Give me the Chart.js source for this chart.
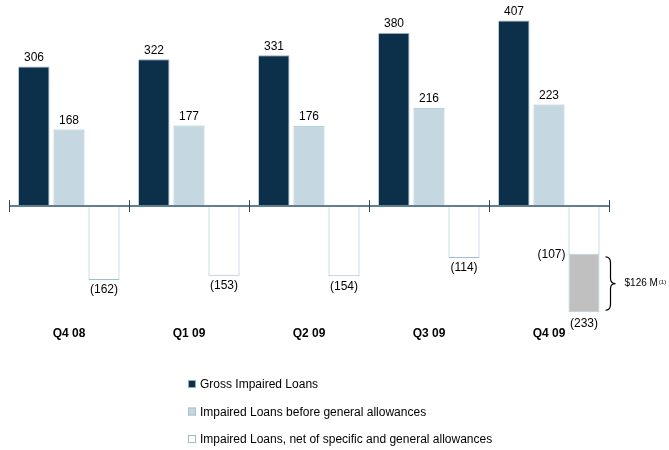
<!DOCTYPE html>
<html>
<head>
<meta charset="utf-8">
<script src="https://cdn.jsdelivr.net/npm/chart.js@4.4.0/dist/chart.umd.min.js"></script>
<style>
  html, body { margin: 0; padding: 0; background: #fff; }
  #wrap { width: 669px; height: 450px; position: relative; }
</style>
</head>
<body>
<div id="wrap"><canvas id="loansChart"></canvas></div>
<script>
// Datos del gráfico (millones $)
const quarters = ['Q4 08', 'Q1 09', 'Q2 09', 'Q3 09', 'Q4 09'];
const grossImpaired = [306, 322, 331, 380, 407];
const beforeGeneral = [168, 177, 176, 216, 223];
const netAllowances = [-162, -153, -154, -114, -107];
const netExtra = [null, null, null, null, -126]; // tramo gris de Q4 09 (hasta -233)
const legendLabels = [
    'Gross Impaired Loans',
    'Impaired Loans before general allowances',
    'Impaired Loans, net of specific and general allowances'
];
const braceNote = '$126 M';
const braceSup = '(1)';

const FONT = '"Liberation Sans", Arial, sans-serif';
const fmtNeg = v => '(' + Math.abs(v) + ')';

// Plugin: eje en cero, etiquetas de valores, categorías, llave y leyenda
const decorPlugin = {
    id: 'decor',
    afterDatasetsDraw(chart) {
        const ctx = chart.ctx;
        const y = chart.scales.y;
        const zero = y.getPixelForValue(0);
        const left = chart.chartArea.left;
        const step = (chart.chartArea.right - left) / quarters.length;

        ctx.save();
        // línea del eje
        ctx.strokeStyle = '#5f7f92';
        ctx.lineWidth = 2;
        ctx.beginPath();
        ctx.moveTo(left, zero);
        ctx.lineTo(chart.chartArea.right, zero);
        ctx.stroke();
        ctx.strokeStyle = '#2b4a5e';
        ctx.lineWidth = 1;
        for (let i = 0; i <= quarters.length; i++) {
            const px = Math.round(left + i * step) + 0.5;
            ctx.beginPath();
            ctx.moveTo(px, zero - 6);
            ctx.lineTo(px, zero + 6);
            ctx.stroke();
        }

        // etiquetas de valores
        ctx.fillStyle = '#000';
        ctx.font = '12px ' + FONT;
        ctx.textAlign = 'center';
        [0, 1].forEach(di => {
            const meta = chart.getDatasetMeta(di);
            meta.data.forEach((bar, i) => {
                ctx.textBaseline = 'bottom';
                ctx.fillText(String(chart.data.datasets[di].data[i]), bar.x, bar.y - 3);
            });
        });
        const netMeta = chart.getDatasetMeta(2);
        const extraMeta = chart.getDatasetMeta(3);
        netMeta.data.forEach((bar, i) => {
            if (netExtra[i] != null) {
                const low = extraMeta.data[i];
                ctx.textAlign = 'right';
                ctx.textBaseline = 'middle';
                ctx.fillText(fmtNeg(netAllowances[i]), bar.x - bar.width / 2 - 3, bar.y);
                ctx.textAlign = 'center';
                ctx.textBaseline = 'top';
                ctx.fillText(fmtNeg(netAllowances[i] + netExtra[i]), low.x, low.y + 5);

                // llave
                const bx = low.x + low.width / 2 + 6;
                const y0 = bar.y + 2, y1 = low.y - 2, ym = (y0 + y1) / 2;
                ctx.strokeStyle = '#000';
                ctx.lineWidth = 1.2;
                ctx.beginPath();
                ctx.moveTo(bx, y0);
                ctx.quadraticCurveTo(bx + 5, y0, bx + 5, y0 + 6);
                ctx.lineTo(bx + 5, ym - 5);
                ctx.quadraticCurveTo(bx + 5, ym, bx + 10, ym);
                ctx.quadraticCurveTo(bx + 5, ym, bx + 5, ym + 5);
                ctx.lineTo(bx + 5, y1 - 6);
                ctx.quadraticCurveTo(bx + 5, y1, bx, y1);
                ctx.stroke();

                ctx.textAlign = 'left';
                ctx.textBaseline = 'middle';
                ctx.font = '10px ' + FONT;
                ctx.fillText(braceNote, bx + 19, ym);
                const w = ctx.measureText(braceNote).width;
                ctx.font = '6px ' + FONT;
                ctx.fillText(braceSup, bx + 19 + w + 1, ym - 1);
                ctx.font = '12px ' + FONT;
            } else {
                ctx.textAlign = 'center';
                ctx.textBaseline = 'top';
                ctx.fillText(fmtNeg(netAllowances[i]), bar.x, bar.y + 4);
            }
        });

        // categorías
        ctx.font = 'bold 12px ' + FONT;
        ctx.textAlign = 'center';
        ctx.textBaseline = 'middle';
        quarters.forEach((q, i) => {
            ctx.fillText(q, left + (i + 0.5) * step, 334);
        });

        // leyenda
        ctx.font = '12px ' + FONT;
        ctx.textAlign = 'left';
        legendLabels.forEach((lbl, i) => {
            const ds = chart.data.datasets[i];
            const ly = 384 + i * 27.5;
            ctx.fillStyle = ds.backgroundColor;
            ctx.fillRect(188, ly - 4, 8, 8);
            ctx.strokeStyle = ds.borderColor;
            ctx.lineWidth = 1;
            ctx.strokeRect(188.5, ly - 3.5, 7, 7);
            ctx.fillStyle = '#000';
            ctx.fillText(lbl, 200, ly + 1);
        });
        ctx.restore();
    }
};

document.addEventListener('DOMContentLoaded', function () {
    const ctx = document.getElementById('loansChart').getContext('2d');
    new Chart(ctx, {
        type: 'bar',
        data: {
            labels: quarters,
            datasets: [{
                label: legendLabels[0],
                data: grossImpaired,
                backgroundColor: '#0c3049',
                borderColor: '#8fb0c2',
                borderWidth: { right: 1, top: 1 },
                stack: 'a'
            }, {
                label: legendLabels[1],
                data: beforeGeneral,
                backgroundColor: '#c5d8e2',
                borderColor: '#a3c1d1',
                borderWidth: 1,
                stack: 'b'
            }, {
                label: legendLabels[2],
                data: netAllowances,
                backgroundColor: '#ffffff',
                borderColor: '#9dbdd0',
                borderWidth: 1,
                stack: 'c'
            }, {
                label: 'extra',
                data: netExtra,
                backgroundColor: '#c0c0c0',
                borderColor: '#b5cfdc',
                borderWidth: 1,
                stack: 'c'
            }]
        },
        options: {
            responsive: true,
            maintainAspectRatio: false,
            animation: false,
            layout: { padding: { left: 9, right: 60, top: 1, bottom: 130 } },
            categoryPercentage: 0.875,
            barPercentage: 0.886,
            scales: {
                x: { display: false, stacked: true },
                y: { display: false, stacked: true, min: -250, max: 450 }
            },
            plugins: {
                legend: { display: false },
                tooltip: { enabled: false }
            }
        },
        plugins: [decorPlugin]
    });
});
</script>
</body>
</html>
